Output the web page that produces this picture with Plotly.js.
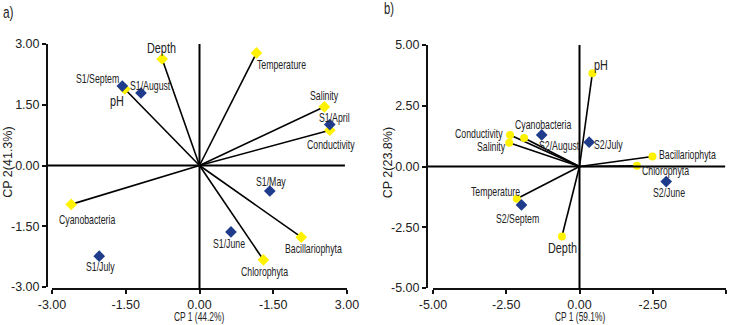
<!DOCTYPE html>
<html>
<head>
<meta charset="utf-8">
<script src="https://cdn.plot.ly/plotly-3.0.1.min.js"></script>
<style>
html,body{margin:0;padding:0;background:#fff;}
#chart{width:737px;height:325px;}
/* condensed look of the original typeface (horizontal texts) */
text.annotation-text{transform-box:fill-box;transform-origin:center;transform:scaleX(0.7);}
</style>
<style id="unscale"></style>
</head>
<body>
<div id="chart"></div>
<script>
// ---------- Data: panel a ----------
const varNamesA = ['Depth','Temperature','pH','Salinity','Conductivity','Cyanobacteria','Bacillariophyta','Chlorophyta'];
const varXA = [-0.76, 1.16, -1.52, 2.54, 2.65, -2.61, 2.07, 1.30];
const varYA = [2.63, 2.78, 1.89, 1.45, 0.87, -0.96, -1.77, -2.33];
const sampNamesA = ['S1/Septem','S1/August','S1/April','S1/May','S1/June','S1/July'];
const sampXA = [-1.57, -1.19, 2.65, 1.43, 0.64, -2.04];
const sampYA = [1.96, 1.79, 1.01, -0.63, -1.64, -2.24];
const tickValsA = [-3, -1.5, 0, 1.5, 3];
const xTickTextA = ['-3.00','-1.50','0.00','-1.50','3.00'];
const yTickTextA = ['-3.00','-1.50','0.00','1.50','3.00'];

// ---------- Data: panel b ----------
const varNamesB = ['pH','Conductivity','Salinity','Cyanobacteria','Bacillariophyta','Chlorophyta','Temperature','Depth'];
const varXB = [0.44, -2.37, -2.40, -1.89, 2.49, 1.96, -2.14, -0.60];
const varYB = [3.84, 1.30, 0.98, 1.17, 0.41, 0.03, -1.33, -2.88];
const sampNamesB = ['S2/August','S2/July','S2/June','S2/Septem'];
const sampXB = [-1.29, 0.33, 2.96, -1.98];
const sampYB = [1.30, 1.00, -0.62, -1.58];
const tickValsB = [-5, -2.5, 0, 2.5, 5];
const xTickTextB = ['-5.00','-2.50','0.00','-2.50','5.00'];
const yTickTextB = ['-5.00','-2.50','0.00','2.50','5.00'];

const titleXA = 'CP 1 (44.2%)', titleYA = 'CP 2(41.3%)';
const titleXB = 'CP 1 (59.1%)', titleYB = 'CP 2(23.8%)';

// ---------- Styles (label offsets in px: [dx, dy(down), size]) ----------
const labelStyleA = {
  'Depth':[-1,-11,15.5], 'Temperature':[25,11,12.5], 'pH':[-8,12,15.5], 'Salinity':[0,-12,12.5],
  'Conductivity':[1,14,12.5], 'Cyanobacteria':[16,15,12.5], 'Bacillariophyta':[12,11,12.5],
  'Chlorophyta':[1,11,12.5], 'S1/Septem':[-25,-8,12.5], 'S1/August':[9,-8,12.5], 'S1/April':[5,-8,12.5],
  'S1/May':[1,-10,12.5], 'S1/June':[-2,11.5,12.5], 'S1/July':[1,10,12.5]
};
const labelStyleB = {
  'pH':[9,-9,15.5], 'Conductivity':[-31,-2,12.5], 'Salinity':[-18,3.4,12.5], 'Cyanobacteria':[19,-14,12.5],
  'Bacillariophyta':[35,-3,12.5], 'Chlorophyta':[28.5,4.7,12.5], 'Temperature':[-21,-8,12.5],
  'Depth':[1,11.5,15.5], 'S2/August':[17,10,12.5], 'S2/July':[19,1.6,12.5], 'S2/June':[2.6,10,12.5],
  'S2/Septem':[-3.7,13,12.5]
};

const FONT = '"Liberation Sans", Arial, "Helvetica", sans-serif';
const TXT = '#222';
const YELLOW = '#FFF200';
const BLUE = '#1F3C8C';
const W = 737, H = 325;

function vectorTrace(xs, ys, xa, ya) {
  const x = [], y = [];
  xs.forEach((v, i) => { x.push(0, v, null); y.push(0, ys[i], null); });
  return {x, y, xaxis: xa, yaxis: ya, mode: 'lines', type: 'scatter',
          line: {color: '#000', width: 1.6}, hoverinfo: 'skip'};
}
function markerTrace(xs, ys, xa, ya, color, symbol, size) {
  return {x: xs, y: ys, xaxis: xa, yaxis: ya, mode: 'markers', type: 'scatter',
          marker: {color, symbol, size, line: {width: 0}}, hoverinfo: 'skip'};
}
function labels(names, xs, ys, xref, yref, style) {
  return names.map((n, i) => {
    const s = style[n] || [0, 10, 12.5];
    return {text: n, x: xs[i], y: ys[i], xref, yref, showarrow: false,
            xanchor: 'center', yanchor: 'middle', xshift: s[0], yshift: -s[1],
            font: {family: FONT, size: s[2], color: TXT}};
  });
}

const traces = [
  vectorTrace(varXA, varYA, 'x', 'y'),
  markerTrace(varXA, varYA, 'x', 'y', YELLOW, 'diamond', 9),
  markerTrace(sampXA, sampYA, 'x', 'y', BLUE, 'diamond', 9),
  vectorTrace(varXB, varYB, 'x2', 'y2'),
  markerTrace(varXB, varYB, 'x2', 'y2', YELLOW, 'circle', 8),
  markerTrace(sampXB, sampYB, 'x2', 'y2', BLUE, 'diamond', 9)
];

function axis(extra) {
  return Object.assign({
    showgrid: false, zeroline: false, showline: true, linecolor: '#111', linewidth: 2,
    ticks: 'outside', ticklen: 4, tickwidth: 2, tickcolor: '#111',
    tickfont: {family: FONT, size: 12.5, color: TXT}, tickmode: 'array',
    anchor: 'free', fixedrange: true
  }, extra);
}

const pointLabels = [].concat(
  labels(varNamesA, varXA, varYA, 'x', 'y', labelStyleA),
  labels(sampNamesA, sampXA, sampYA, 'x', 'y', labelStyleA),
  labels(varNamesB, varXB, varYB, 'x2', 'y2', labelStyleB),
  labels(sampNamesB, sampXB, sampYB, 'x2', 'y2', labelStyleB)
);
const titleAnns = [
  {text: 'a)', xref: 'paper', yref: 'paper', x: 1/W, y: 1 - 12/H, xanchor: 'left', yanchor: 'middle', showarrow: false, font: {family: FONT, size: 17, color: TXT}},
  {text: 'b)', xref: 'paper', yref: 'paper', x: 382/W, y: 1 - 9/H, xanchor: 'left', yanchor: 'middle', showarrow: false, font: {family: FONT, size: 16, color: TXT}},
  {text: titleXA, xref: 'paper', yref: 'paper', x: 199/W, y: 1 - 317/H, xanchor: 'center', yanchor: 'middle', showarrow: false, font: {family: FONT, size: 12, color: TXT}},
  {text: titleXB, xref: 'paper', yref: 'paper', x: 580/W, y: 1 - 317/H, xanchor: 'center', yanchor: 'middle', showarrow: false, font: {family: FONT, size: 12, color: TXT}}
];
const yTitleAnns = [
  {text: titleYA, xref: 'paper', yref: 'paper', x: 7/W, y: 1 - 162/H, xanchor: 'center', yanchor: 'middle', textangle: -90, showarrow: false, font: {family: FONT, size: 12.5, color: TXT}},
  {text: titleYB, xref: 'paper', yref: 'paper', x: 387.5/W, y: 1 - 163/H, xanchor: 'center', yanchor: 'middle', textangle: -90, showarrow: false, font: {family: FONT, size: 12.5, color: TXT}}
];
const annotations = pointLabels.concat(titleAnns, yTitleAnns);

// vertical titles are not condensed along their length
const firstY = pointLabels.length + titleAnns.length;
document.getElementById('unscale').textContent =
  [firstY, firstY + 1].map(i => 'g.annotation[data-index="' + i + '"] text.annotation-text{transform:none;}').join('\n');

const layout = {
  width: W, height: H, margin: {l: 0, r: 0, t: 0, b: 0},
  paper_bgcolor: '#fff', plot_bgcolor: '#fff', showlegend: false, hovermode: false,
  xaxis: axis({domain: [52/W, 347/W], range: [-3, 3], tickvals: tickValsA, ticktext: xTickTextA, position: 1 - 289/H}),
  yaxis: axis({domain: [1 - 287/H, 1 - 44/H], range: [-3, 3], tickvals: tickValsA, ticktext: yTickTextA, position: 47/W}),
  xaxis2: axis({domain: [433/W, 726/W], range: [-5, 5], tickvals: tickValsB, ticktext: xTickTextB, position: 1 - 289/H}),
  yaxis2: axis({domain: [1 - 288/H, 1 - 45/H], range: [-5, 5], tickvals: tickValsB, ticktext: yTickTextB, position: 427/W}),
  shapes: [
    {type: 'line', xref: 'x domain', yref: 'y', x0: -0.014, x1: 0.993, y0: 0, y1: 0, line: {color: '#000', width: 2}},
    {type: 'line', xref: 'x', yref: 'y domain', x0: 0, x1: 0, y0: -0.008, y1: 1, line: {color: '#000', width: 2}},
    {type: 'line', xref: 'x2 domain', yref: 'y2', x0: -0.017, x1: 0.997, y0: 0, y1: 0, line: {color: '#000', width: 2}},
    {type: 'line', xref: 'x2', yref: 'y2 domain', x0: 0, x1: 0, y0: -0.004, y1: 1, line: {color: '#000', width: 2}}
  ],
  annotations: annotations
};

Plotly.newPlot('chart', traces, layout, {staticPlot: true, displayModeBar: false});
</script>
</body>
</html>
